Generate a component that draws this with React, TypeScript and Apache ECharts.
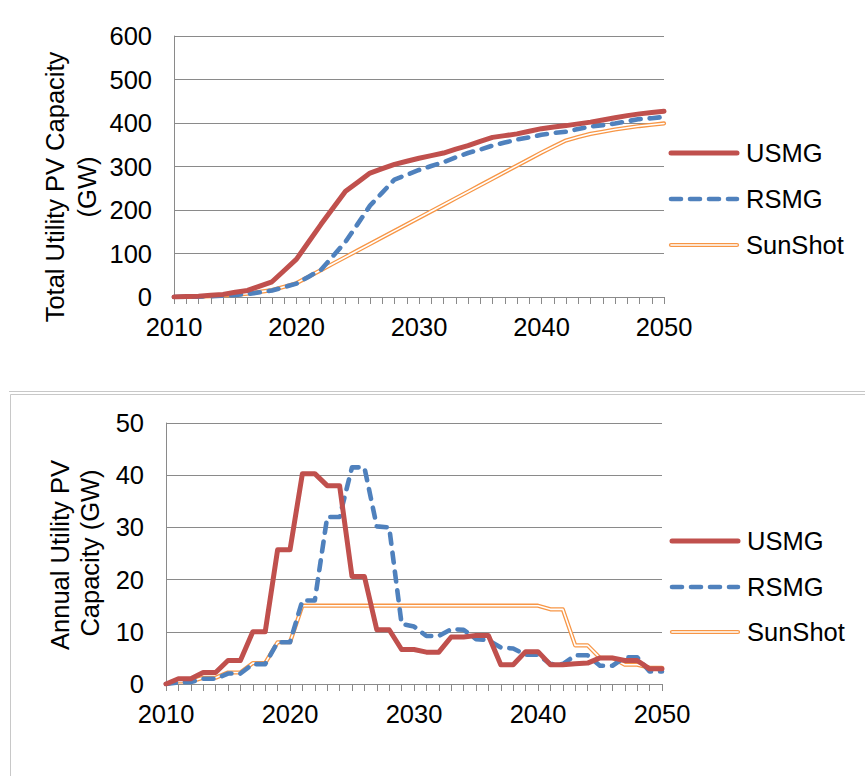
import React, { useEffect, useRef } from "react";
import * as echarts from "echarts";

// Years on the horizontal axis of both panels
const years = [
  "2010", "2011", "2012", "2013", "2014", "2015", "2016", "2017", "2018", "2019",
  "2020", "2021", "2022", "2023", "2024", "2025", "2026", "2027", "2028", "2029",
  "2030", "2031", "2032", "2033", "2034", "2035", "2036", "2037", "2038", "2039",
  "2040", "2041", "2042", "2043", "2044", "2045", "2046", "2047", "2048", "2049",
  "2050",
];

const seriesNames = ["USMG", "RSMG", "SunShot"];

// Total utility PV capacity (GW)
const totalUSMG = [
  0, 1, 2, 4, 6, 11, 15, 25, 35, 61,
  87, 127, 167, 205, 243, 264, 285, 295, 305, 312,
  319, 325, 331, 340, 348, 358, 367, 371, 375, 381,
  387, 391, 394, 398, 402, 407, 412, 417, 421, 424,
  427,
];
const totalRSMG = [
  0, 0.4, 0.8, 1.8, 2.8, 4.8, 6.8, 10.8, 14.8, 22.8,
  30.8, 46.8, 62.8, 94.8, 126.8, 168, 210, 240, 270, 281,
  292, 301, 310, 321, 331, 339, 348, 355, 362, 367,
  373, 377, 380, 386, 392, 395, 399, 404, 409, 411,
  414,
];
const totalSunShot = [
  0, 0.5, 1, 2.2, 3.4, 5.6, 7.8, 11.8, 15.8, 23.8,
  31.8, 47, 62, 77, 92, 107, 122, 137, 152, 167,
  182, 197, 212, 227, 242, 257, 272, 287, 302, 317,
  332, 346, 360, 368, 375, 380, 385, 389, 393, 396,
  399,
];

// Annual utility PV capacity additions (GW)
const annualUSMG = [
  0, 1, 1, 2.2, 2.2, 4.5, 4.5, 10, 10, 25.7,
  25.7, 40.3, 40.3, 38, 38, 20.6, 20.6, 10.4, 10.4, 6.6,
  6.6, 6.1, 6.1, 9, 9, 9.3, 9.3, 3.7, 3.7, 6.2,
  6.2, 3.7, 3.7, 3.9, 4, 5, 5, 4.5, 4.5, 2.9,
  2.9,
];
const annualRSMG = [
  0, 0.3, 0.4, 1, 1, 2, 2, 3.8, 3.8, 8,
  8, 16, 16, 32, 32, 41.5, 41.5, 30.2, 30, 11.5,
  11, 9.2, 9.2, 10.5, 10.4, 8.6, 8.4, 7, 6.8, 5.6,
  5.6, 3.8, 3.8, 5.5, 5.5, 3.5, 3.5, 5.1, 5.1, 2.4,
  2.4,
];
const annualSunShot = [
  0, 0.5, 0.5, 1.2, 1.2, 2.2, 2.2, 4, 4, 8,
  8, 15, 15, 15, 15, 15, 15, 15, 15, 15,
  15, 15, 15, 15, 15, 15, 15, 15, 15, 15,
  15, 14.3, 14.3, 7.4, 7.4, 5, 5, 3.7, 3.7, 3.1,
  3.1,
];

const totalScale = { min: 0, max: 600, interval: 100 };
const annualScale = { min: 0, max: 50, interval: 10 };

const totalTitle = ["Total Utility PV Capacity", "(GW)"];
const annualTitle = ["Annual Utility PV", "Capacity (GW)"];

const FONT = "'Liberation Sans', Arial, Helvetica, sans-serif";
const RED = "#C0504D";
const BLUE = "#4F81BD";
const ORANGE = "#F79646";
const AXIS = "#8A8A8A";
const FRAME = "#C8C8C8";
const TEXT = "#000000";
const FS = 25.5;

function xAxis(gridIndex: number) {
  return {
    type: "category",
    gridIndex,
    data: years,
    boundaryGap: false,
    axisLine: { show: true, lineStyle: { color: AXIS, width: 1 } },
    axisTick: { show: true, interval: 0, length: 7, lineStyle: { color: AXIS, width: 1 } },
    axisLabel: { interval: 9, margin: 17, fontSize: FS, color: TEXT, fontFamily: FONT },
    splitLine: { show: false },
  };
}

function yAxis(gridIndex: number, scale: { min: number; max: number; interval: number }) {
  return {
    type: "value",
    gridIndex,
    min: scale.min,
    max: scale.max,
    interval: scale.interval,
    axisLine: { show: true, lineStyle: { color: AXIS, width: 1 } },
    axisTick: { show: false },
    axisLabel: { margin: 22, fontSize: FS, color: TEXT, fontFamily: FONT },
    splitLine: { show: true, lineStyle: { color: AXIS, width: 1 } },
  };
}

// SunShot sits underneath, RSMG above it, USMG on top
function panelSeries(index: number, usmg: number[], rsmg: number[], sun: number[]) {
  const base = {
    type: "line",
    xAxisIndex: index,
    yAxisIndex: index,
    symbol: "none",
    silent: true,
    emphasis: { disabled: true },
  };
  return [
    {
      ...base,
      name: seriesNames[2],
      data: sun,
      itemStyle: { color: ORANGE },
      lineStyle: { color: ORANGE, width: 4.2, join: "round", cap: "round" },
    },
    {
      // white core that turns the SunShot stroke into a double line
      ...base,
      name: seriesNames[2],
      data: sun,
      itemStyle: { color: "#ffffff" },
      lineStyle: { color: "#ffffff", width: 1.6, join: "round", cap: "round" },
    },
    {
      ...base,
      name: seriesNames[1],
      data: rsmg,
      itemStyle: { color: BLUE },
      lineStyle: { color: BLUE, width: 4.6, type: [10, 9], cap: "round", join: "round" },
    },
    {
      ...base,
      name: seriesNames[0],
      data: usmg,
      itemStyle: { color: RED },
      lineStyle: { color: RED, width: 5, join: "round", cap: "round" },
    },
  ];
}

function legendGraphics(x: number, textX: number, ys: number[]) {
  const w = 70;
  return [
    {
      type: "line",
      shape: { x1: x + 2, y1: ys[0], x2: x + w - 2, y2: ys[0] },
      style: { stroke: RED, lineWidth: 5, lineCap: "round" },
    },
    {
      type: "line",
      shape: { x1: x + 2, y1: ys[1], x2: x + w - 2, y2: ys[1] },
      style: { stroke: BLUE, lineWidth: 4.6, lineCap: "round", lineDash: [10, 9] },
    },
    {
      type: "line",
      shape: { x1: x + 2, y1: ys[2], x2: x + w - 2, y2: ys[2] },
      style: { stroke: ORANGE, lineWidth: 4.2, lineCap: "round" },
    },
    {
      type: "line",
      shape: { x1: x + 2, y1: ys[2], x2: x + w - 2, y2: ys[2] },
      style: { stroke: "#ffffff", lineWidth: 1.6, lineCap: "round" },
    },
    ...seriesNames.map((name, i) => ({
      type: "text",
      x: textX,
      y: ys[i],
      style: {
        text: name,
        fontSize: FS,
        fontFamily: FONT,
        fill: TEXT,
        align: "left",
        verticalAlign: "middle",
      },
    })),
  ];
}

function titleGraphics(lines: string[], xs: number[], ys: number[]) {
  return lines.map((t, i) => ({
    type: "text",
    x: xs[i],
    y: ys[i],
    rotation: Math.PI / 2,
    style: {
      text: t,
      fontSize: FS,
      fontFamily: FONT,
      fill: TEXT,
      align: "center",
      verticalAlign: "middle",
    },
  }));
}

export default function App() {
  const ref = useRef<HTMLDivElement>(null);

  useEffect(() => {
    if (!ref.current) return;
    const chart = echarts.init(ref.current, undefined, { renderer: "svg" });

    chart.setOption({
      animation: false,
      backgroundColor: "#ffffff",
      textStyle: { fontFamily: FONT },
      grid: [
        { left: 174, top: 36, width: 490, height: 261, containLabel: false },
        { left: 166, top: 423, width: 496, height: 261, containLabel: false },
      ],
      xAxis: [xAxis(0), xAxis(1)],
      yAxis: [yAxis(0, totalScale), yAxis(1, annualScale)],
      series: [
        ...panelSeries(0, totalUSMG, totalRSMG, totalSunShot),
        ...panelSeries(1, annualUSMG, annualRSMG, annualSunShot),
      ],
      graphic: [
        // frame around the lower panel
        {
          type: "line",
          shape: { x1: 9, y1: 391.5, x2: 865, y2: 391.5 },
          style: { stroke: FRAME, lineWidth: 1 },
        },
        {
          type: "line",
          shape: { x1: 10.5, y1: 394.5, x2: 865, y2: 394.5 },
          style: { stroke: FRAME, lineWidth: 1 },
        },
        {
          type: "line",
          shape: { x1: 10.5, y1: 394.5, x2: 10.5, y2: 776 },
          style: { stroke: FRAME, lineWidth: 1 },
        },
        ...titleGraphics(totalTitle, [55, 87], [187, 187]),
        ...titleGraphics(annualTitle, [60, 90], [555, 553]),
        ...legendGraphics(669, 746, [153, 199, 245]),
        ...legendGraphics(670, 747, [541, 587, 632]),
      ],
    });

    return () => {
      chart.dispose();
    };
  }, []);

  return (
    <div
      ref={ref}
      style={{ position: "fixed", left: 0, top: 0, width: 865, height: 776, background: "#fff" }}
    />
  );
}
